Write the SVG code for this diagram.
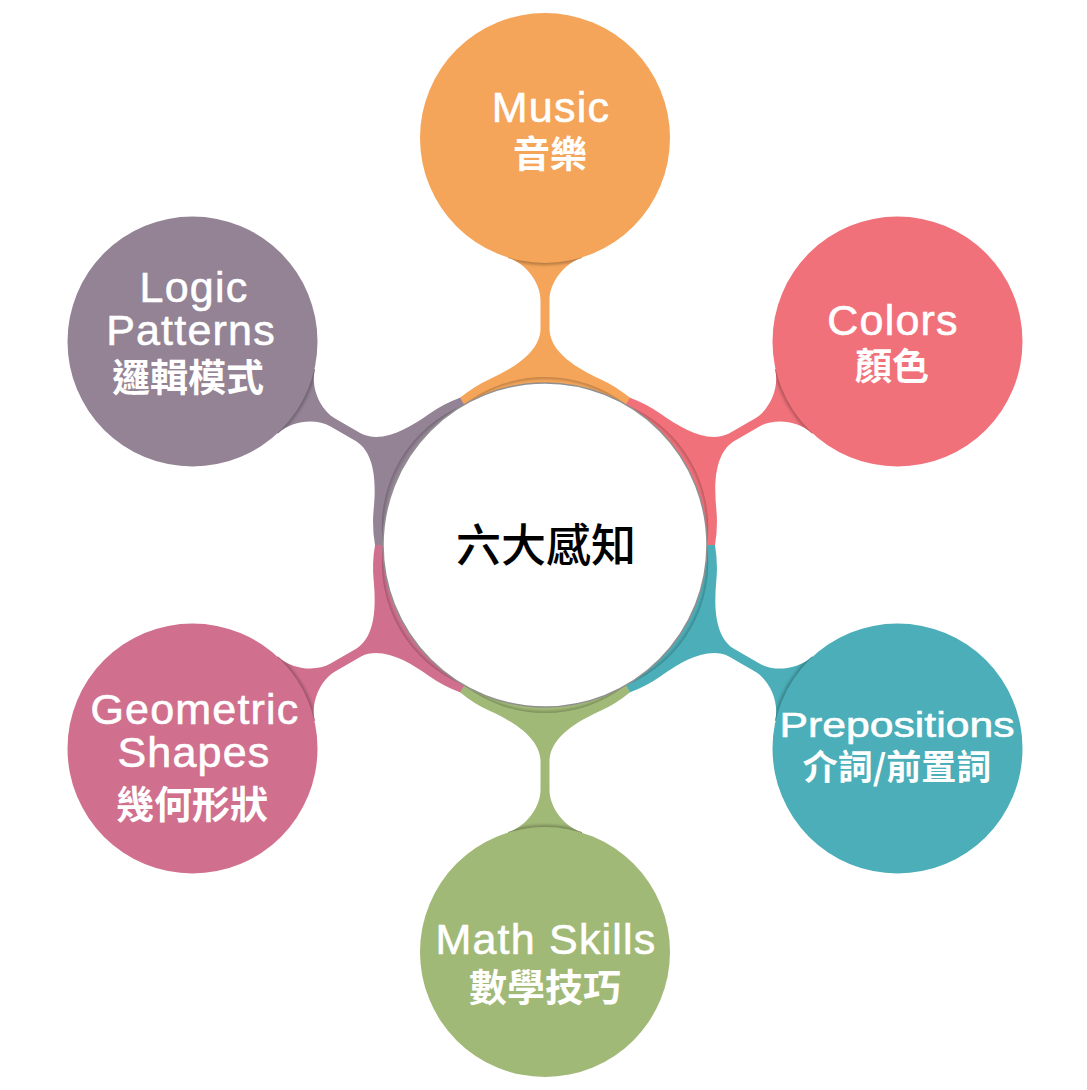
<svg xmlns="http://www.w3.org/2000/svg" xmlns:xlink="http://www.w3.org/1999/xlink" width="1087" height="1090" viewBox="0 0 1087 1090">
<style>
.en{font-family:"Liberation Sans",Arial,sans-serif;font-size:43px;fill:#fff;stroke:#fff;stroke-width:0.6px;text-anchor:middle;letter-spacing:1.2px}
.zh{font-family:"Noto Sans CJK TC","Noto Sans CJK SC",sans-serif;font-size:37px;font-weight:700;fill:#fff;text-anchor:middle}
.sh{fill:none;stroke:#000;stroke-opacity:.28;filter:url(#blur)}
</style>
<defs>
<path id="seg" d="M-85,-147.2 A170 170 0 0 1 85,-147.2 L81,-140.3 A162 162 0 0 0 -81,-140.3 Z"/>
<path id="neck" d="M-85,-147.2 A132.7 132.7 0 0 1 -55,-166.1 C-32.2,-176.5 -6,-192 -4.5,-215 L-4.5,-245 C-4.5,-262 -19,-282 -37,-287 L-37,-300 L37,-300 L37,-287 C19,-282 4.5,-262 4.5,-245 L4.5,-215 C6,-192 32.2,-176.5 55,-166.1 A132.7 132.7 0 0 1 85,-147.2 L81,-140.3 A132.3 132.3 0 0 0 -81,-140.3 Z"/>
<clipPath id="clipSeg"><use xlink:href="#seg"/></clipPath>
<clipPath id="clipNeck"><use xlink:href="#neck"/></clipPath>
<filter id="blur" x="-20%" y="-20%" width="140%" height="140%"><feGaussianBlur stdDeviation="1.6"/></filter>
</defs>
<rect width="1087" height="1090" fill="#fff"/>
<g id="connectors">
<g transform="translate(545 545) rotate(0)" fill="#F4A559">
<use xlink:href="#seg"/><path class="sh" stroke-width="3" clip-path="url(#clipSeg)" d="M-81,-140.3 A132.3 132.3 0 0 1 81,-140.3"/>
<use xlink:href="#neck"/><circle class="sh" stroke-width="4" clip-path="url(#clipNeck)" cx="0" cy="-407" r="125"/>
</g>
<g transform="translate(545 545) rotate(60)" fill="#F0717A">
<use xlink:href="#seg"/><path class="sh" stroke-width="3" clip-path="url(#clipSeg)" d="M-81,-140.3 A132.3 132.3 0 0 1 81,-140.3"/>
<use xlink:href="#neck"/><circle class="sh" stroke-width="4" clip-path="url(#clipNeck)" cx="0" cy="-407" r="125"/>
</g>
<g transform="translate(545 545) rotate(120)" fill="#4BAEB8">
<use xlink:href="#seg"/><path class="sh" stroke-width="3" clip-path="url(#clipSeg)" d="M-81,-140.3 A132.3 132.3 0 0 1 81,-140.3"/>
<use xlink:href="#neck"/><circle class="sh" stroke-width="4" clip-path="url(#clipNeck)" cx="0" cy="-407" r="125"/>
</g>
<g transform="translate(545 545) rotate(180)" fill="#A1B977">
<use xlink:href="#seg"/><path class="sh" stroke-width="3" clip-path="url(#clipSeg)" d="M-81,-140.3 A132.3 132.3 0 0 1 81,-140.3"/>
<use xlink:href="#neck"/><circle class="sh" stroke-width="4" clip-path="url(#clipNeck)" cx="0" cy="-407" r="125"/>
</g>
<g transform="translate(545 545) rotate(240)" fill="#D0708E">
<use xlink:href="#seg"/><path class="sh" stroke-width="3" clip-path="url(#clipSeg)" d="M-81,-140.3 A132.3 132.3 0 0 1 81,-140.3"/>
<use xlink:href="#neck"/><circle class="sh" stroke-width="4" clip-path="url(#clipNeck)" cx="0" cy="-407" r="125"/>
</g>
<g transform="translate(545 545) rotate(300)" fill="#938395">
<use xlink:href="#seg"/><path class="sh" stroke-width="3" clip-path="url(#clipSeg)" d="M-81,-140.3 A132.3 132.3 0 0 1 81,-140.3"/>
<use xlink:href="#neck"/><circle class="sh" stroke-width="4" clip-path="url(#clipNeck)" cx="0" cy="-407" r="125"/>
</g>
</g>
<g id="node-center">
<circle cx="545" cy="545" r="162" fill="#fff" stroke="#8f8f8f" stroke-width="1.5"/>
<text x="546" y="562" style="font-family:'Noto Sans CJK TC','Noto Sans CJK SC',sans-serif;font-size:45px;font-weight:500;fill:#000;text-anchor:middle">六大感知</text>
</g>
<g id="node-music">
<circle cx="545" cy="138" r="125" fill="#F4A559"/>
<text class="en" x="551" y="122">Music</text>
<text class="zh" x="550" y="168">音樂</text>
</g>
<g id="node-colors">
<circle cx="897.5" cy="341.5" r="125" fill="#F0717A"/>
<text class="en" x="893" y="335">Colors</text>
<text class="zh" x="892" y="380">顏色</text>
</g>
<g id="node-prepositions">
<circle cx="897.5" cy="748.5" r="125" fill="#4BAEB8"/>
<text class="en" x="897" y="737" style="font-size:35px;letter-spacing:0" textLength="235" lengthAdjust="spacingAndGlyphs">Prepositions</text>
<text class="zh" x="897" y="780" style="font-size:35px">介詞/前置詞</text>
</g>
<g id="node-math">
<circle cx="545" cy="952" r="125" fill="#A1B977"/>
<text class="en" x="546" y="954">Math Skills</text>
<text class="zh" x="545" y="1001" style="font-size:38px">數學技巧</text>
</g>
<g id="node-geometric">
<circle cx="192.5" cy="748.5" r="125" fill="#D0708E"/>
<text class="en" x="195" y="724">Geometric</text>
<text class="en" x="194" y="767">Shapes</text>
<text class="zh" x="192" y="818" style="font-size:38px">幾何形狀</text>
</g>
<g id="node-logic">
<circle cx="192.5" cy="341.5" r="125" fill="#938395"/>
<text class="en" x="194" y="302">Logic</text>
<text class="en" x="191" y="345">Patterns</text>
<text class="zh" x="188" y="391" style="font-size:38px">邏輯模式</text>
</g>
</svg>
